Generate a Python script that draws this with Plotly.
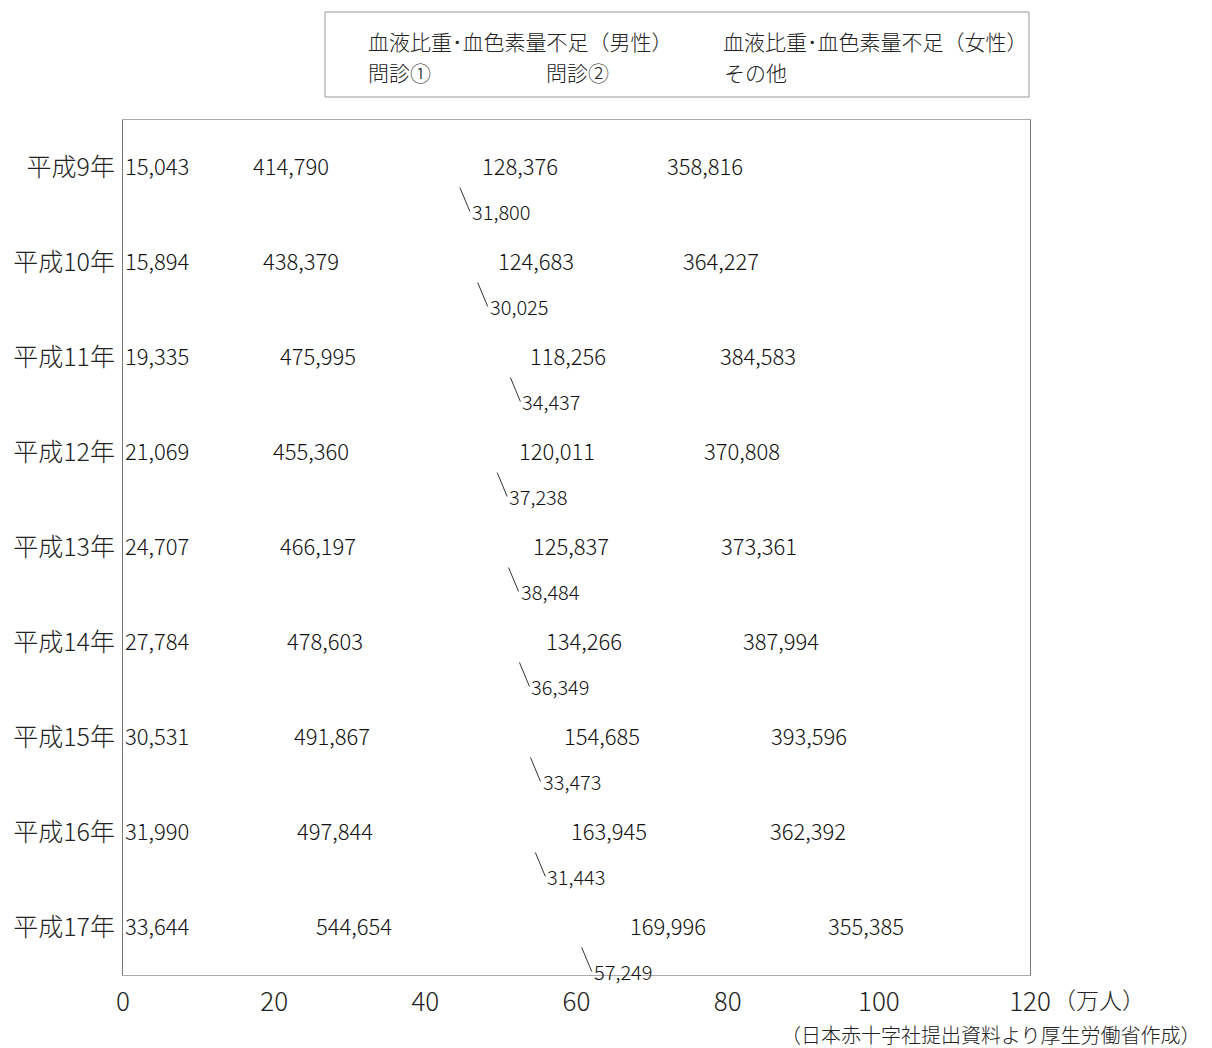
import plotly.graph_objects as go

years = ["平成9年", "平成10年", "平成11年", "平成12年", "平成13年",
         "平成14年", "平成15年", "平成16年", "平成17年"]
male_blood = [15043, 15894, 19335, 21069, 24707, 27784, 30531, 31990, 33644]
female_blood = [414790, 438379, 475995, 455360, 466197, 478603, 491867, 497844, 544654]
interview1 = [31800, 30025, 34437, 37238, 38484, 36349, 33473, 31443, 57249]
interview2 = [128376, 124683, 118256, 120011, 125837, 134266, 154685, 163945, 169996]
others = [358816, 364227, 384583, 370808, 373361, 387994, 393596, 362392, 355385]

series_names = ["血液比重･血色素量不足（男性）", "血液比重･血色素量不足（女性）",
                "問診①", "問診②", "その他"]
series_values = [male_blood, female_blood, interview1, interview2, others]
legend_ids = ["legend", "legend", "legend2", "legend2", "legend2"]

x_ticks = [0, 20, 40, 60, 80, 100, 120]
unit_label = "（万人）"
source_note = "（日本赤十字社提出資料より厚生労働省作成）"

FONT = "Noto Sans CJK JP"
WT = 300
SCALE = 10000.0
OFF = 8  # page offset of the figure inside the browser window

W, H = 1212 - 2 * OFF, 1048 - OFF
L = 123 - OFF
T = 120 - OFF
R = W - (1030 - OFF)
B = H - (975 - OFF)
pw = W - L - R
ph = H - T - B


def px_x(p):
    """reference screenshot x pixel -> paper coordinate"""
    return (p - OFF - L) / pw


def px_y(p):
    """reference screenshot y pixel -> paper coordinate"""
    return (H - B - (p - OFF)) / ph


fig = go.Figure()
for name, vals, lg in zip(series_names, series_values, legend_ids):
    fig.add_trace(go.Bar(
        y=years, x=[v / SCALE for v in vals], name=name, orientation="h",
        marker=dict(color="white", line=dict(width=0)), width=0.6,
        legend=lg, hoverinfo="skip",
    ))

lab_font = dict(size=22, color="#111", family=FONT, weight=WT)
lead_font = dict(size=20, color="#111", family=FONT, weight=WT)
annotations = []
for i, yr in enumerate(years):
    cum = 0.0
    for k, vals in enumerate(series_values):
        v = vals[i]
        txt = f"{v:,}"
        if k == 0:
            annotations.append(dict(x=0, y=yr, text=txt, showarrow=False,
                                    xanchor="left", xshift=0, yshift=3,
                                    font=lab_font))
        elif k == 2:
            annotations.append(dict(x=(cum + v / 2) / SCALE, y=yr, text=txt,
                                    showarrow=True, arrowhead=0, arrowwidth=1,
                                    arrowcolor="#333", ax=10, ay=24,
                                    xanchor="left", yanchor="middle", yshift=-20,
                                    font=lead_font))
        else:
            annotations.append(dict(x=(cum + v / 2) / SCALE, y=yr, text=txt,
                                    showarrow=False, yshift=3, font=lab_font))
        cum += v

annotations.append(dict(x=x_ticks[-1], y=px_y(999), xref="x", yref="paper",
                        text=unit_label, showarrow=False, xanchor="left",
                        yanchor="middle", xshift=21,
                        font=dict(size=23, color="#222", family=FONT, weight=WT)))
annotations.append(dict(x=px_x(1203), y=px_y(1034), xref="paper", yref="paper",
                        text=source_note, showarrow=False, xanchor="right",
                        yanchor="middle",
                        font=dict(size=20, color="#222", family=FONT, weight=WT)))

fig.update_layout(
    width=W, height=H,
    margin=dict(l=L, r=R, t=T, b=B, autoexpand=False),
    plot_bgcolor="white", paper_bgcolor="white",
    barmode="stack",
    font=dict(family=FONT, color="#222"),
    xaxis=dict(range=[0, 120], tickvals=x_ticks, ticktext=[str(t) for t in x_ticks],
               showgrid=False, zeroline=False, showline=True, mirror=True,
               linecolor="#aaa", linewidth=1, ticks="", ticklabelstandoff=4,
               automargin=False,
               tickfont=dict(size=26, color="#222", family=FONT, weight=WT)),
    yaxis=dict(range=[len(years) - 0.5, -0.5], showgrid=False, zeroline=False,
               showline=True, mirror=True, linecolor="#777", linewidth=1,
               ticks="", ticklabelstandoff=2, automargin=False,
               tickfont=dict(size=25, color="#222", family=FONT, weight=WT)),
    legend=dict(orientation="h", x=px_x(328), y=px_y(42), xanchor="left",
                yanchor="middle", entrywidth=310, entrywidthmode="pixels",
                bgcolor="rgba(0,0,0,0)",
                font=dict(size=21, color="#222", family=FONT, weight=WT),
                traceorder="normal"),
    legend2=dict(orientation="h", x=px_x(328), y=px_y(73), xanchor="left",
                 yanchor="middle", entrywidth=133, entrywidthmode="pixels",
                 bgcolor="rgba(0,0,0,0)",
                 font=dict(size=21, color="#222", family=FONT, weight=WT),
                 traceorder="normal"),
    annotations=annotations,
    shapes=[dict(type="rect", xref="paper", yref="paper",
                 x0=px_x(325), x1=px_x(1029), y0=px_y(12), y1=px_y(97),
                 line=dict(color="#999", width=1), fillcolor="rgba(0,0,0,0)")],
)

fig.write_html("out.html")
